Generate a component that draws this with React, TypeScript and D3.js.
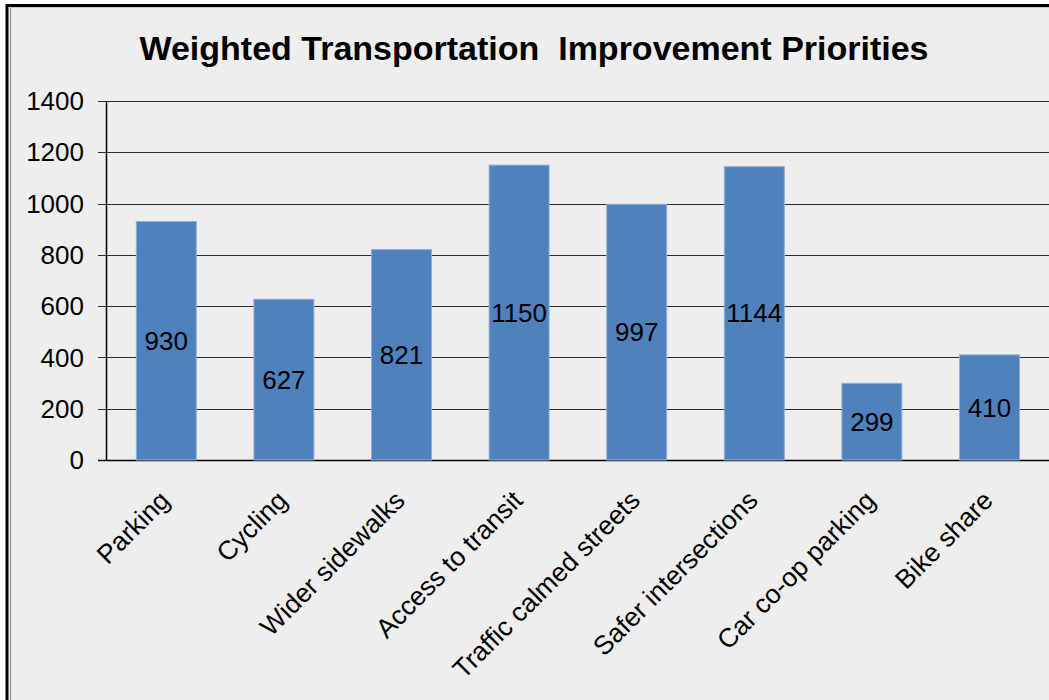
import React from "react";
import * as d3 from "d3";

const categories = [
  "Parking",
  "Cycling",
  "Wider sidewalks",
  "Access to transit",
  "Traffic calmed streets",
  "Safer intersections",
  "Car co-op parking",
  "Bike share",
];
const values = [930, 627, 821, 1150, 997, 1144, 299, 410];
const yTicks = [0, 200, 400, 600, 800, 1000, 1200, 1400];
const title = "Weighted Transportation\u00a0 Improvement Priorities";

const W = 1049;
const H = 700;
const FONT = "'Liberation Sans', Arial, sans-serif";

export default function App() {
  const x = d3
    .scaleBand<string>()
    .domain(categories)
    .range([107.5, 107.5 + 117.6 * 8])
    .paddingInner(0.49)
    .paddingOuter(0.245);
  const y = d3.scaleLinear().domain([0, 1400]).range([460, 101]);
  const axisX = 106.5;

  return (
    <svg
      width={W}
      height={H}
      style={{ position: "absolute", left: 0, top: 0, display: "block" }}
      fontFamily={FONT}
    >
      <rect x={0} y={0} width={W} height={H} fill="#ffffff" />
      <rect x={6} y={4} width={W + 10} height={H + 10} fill="#eeeeee" />
      {/* frame */}
      <line x1={7} y1={4} x2={7} y2={H} stroke="#000" strokeWidth={3} />
      <line x1={6} y1={5.5} x2={W} y2={5.5} stroke="#000" strokeWidth={3} />
      <line x1={10.5} y1={7} x2={10.5} y2={H} stroke="#8a8a8a" strokeWidth={1} />
      <line x1={10} y1={7.5} x2={W} y2={7.5} stroke="#c8c8c8" strokeWidth={1} />

      <text
        x={534}
        y={60}
        textAnchor="middle"
        fontSize={34}
        fontWeight="bold"
        fill="#000"
      >
        {title}
      </text>

      {/* gridlines */}
      {yTicks.map((t) => (
        <g key={t}>
          <line
            x1={98}
            x2={W}
            y1={Math.round(y(t)) + 0.5}
            y2={Math.round(y(t)) + 0.5}
            stroke={t === 0 ? "#000" : "#2a2a2a"}
            strokeWidth={t === 0 ? 1.5 : 1.2}
          />
          <text
            x={84}
            y={y(t)}
            dy="0.35em"
            textAnchor="end"
            fontSize={26}
            fill="#000"
          >
            {t}
          </text>
        </g>
      ))}

      {/* bars */}
      {categories.map((c, i) => (
        <rect
          key={c}
          x={x(c)}
          y={y(values[i])}
          width={x.bandwidth()}
          height={y(0) - y(values[i])}
          fill="#4f81bd"
          stroke="#8fb0d8"
          strokeWidth={1}
        />
      ))}

      {/* y axis */}
      <line x1={axisX} x2={axisX} y1={101} y2={460} stroke="#000" strokeWidth={1.5} />

      {/* data labels */}
      {categories.map((c, i) => (
        <text
          key={c}
          x={(x(c) as number) + x.bandwidth() / 2}
          y={(y(values[i]) + y(0)) / 2}
          dy="0.35em"
          textAnchor="middle"
          fontSize={26}
          fill="#000"
        >
          {values[i]}
        </text>
      ))}

      {/* category labels */}
      {categories.map((c) => {
        const cx = (x(c) as number) + x.bandwidth() / 2;
        return (
          <text
            key={c}
            transform={`translate(${cx + 5},${502}) rotate(-45)`}
            textAnchor="end"
            fontSize={26.5}
            fill="#000"
          >
            {c}
          </text>
        );
      })}
    </svg>
  );
}
